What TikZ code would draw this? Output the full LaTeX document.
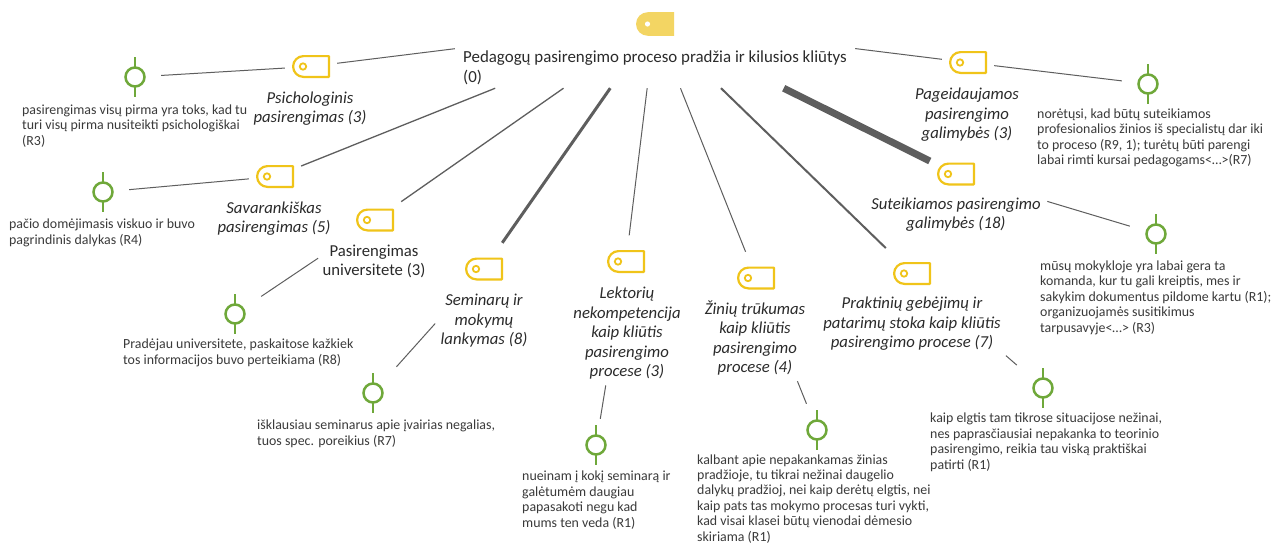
\documentclass[tikz,border=0pt]{standalone}
\usepackage{fontspec}
\setmainfont{Carlito}
\definecolor{linegray}{HTML}{5E5E5E}
\definecolor{tagyellow}{HTML}{F0C419}
\definecolor{tagfill}{HTML}{F3D563}
\definecolor{pingreen}{HTML}{6FA83A}
\definecolor{txtdark}{HTML}{2B2B2B}
\definecolor{txtgray}{HTML}{3A3A3A}
\begin{document}
% multi-line nodes are placed by the baseline of their last line
\begin{tikzpicture}[x=1pt,y=-1pt,
  hub/.style={rectangle,minimum width=52pt,minimum height=52pt,inner sep=0pt},
  roothub/.style={rectangle,minimum width=400pt,minimum height=128pt,inner sep=0pt},
  conn/.style={draw=linegray,line width=1pt},
  evtext/.style={anchor=base west,align=left,inner sep=0pt,text=txtgray,
    font=\fontsize{13.9}{15.4}\selectfont},
  cattext/.style={anchor=base,align=center,inner sep=0pt,text=txtdark,
    font=\fontsize{16.7}{19.5}\selectfont\itshape},
  tag/.pic={
    \draw[tagyellow,line width=2.2pt,line join=round]
      (17.9pt,10.4pt) -- (-7.5pt,10.4pt)
      arc[start angle=90,end angle=270,radius=10.4pt]
      -- (17.9pt,-10.4pt) -- cycle;
    \draw[tagyellow,line width=1.8pt] (-8pt,0pt) circle[radius=3.2pt];
  },
  roottag/.pic={
    \fill[tagfill]
      (19pt,11.8pt) -- (-7.2pt,11.8pt)
      arc[start angle=90,end angle=270,radius=11.8pt]
      -- (19pt,-11.8pt) -- cycle;
    \fill[white] (-7.5pt,0pt) circle[radius=2.6pt];
  },
  pin/.pic={
    \draw[pingreen,line width=2.5pt] (0pt,20pt) -- (0pt,9.5pt) (0pt,-9.5pt) -- (0pt,-20pt);
    \draw[pingreen,line width=2.5pt] (0pt,0pt) circle[radius=9.5pt];
  }
]
\fill[white] (0,0) rectangle (1272,542);
\path[use as bounding box] (0,0) rectangle (1272,542);

% central theme
\node[roothub] (root) at (655,24) {};
\pic at (root.center) {roottag};
\node[anchor=base west,align=left,inner sep=0pt,text=txtdark,
  font=\fontsize{16.9}{20}\selectfont] (roottxt) at (463,82)
  {Pedagogų pasirengimo proceso pradžia ir kilusios kliūtys\\(0)};

% sub-themes: icon hubs
\node[hub] (psi) at (311,66.5) {};
\node[hub] (pag) at (968,62.5) {};
\node[hub] (sav) at (275,176.5) {};
\node[hub] (pas) at (375,220) {};
\node[hub] (sem) at (484,269) {};
\node[hub] (lek) at (626,261.5) {};
\node[hub] (zin) at (756,278) {};
\node[hub] (pra) at (912,273.5) {};
\node[hub] (sut) at (956,174) {};
\foreach \n in {psi,pag,sav,pas,sem,lek,zin,pra,sut} {\pic at (\n.center) {tag};}

% sub-theme labels
\node[cattext] (psiL) at (310,122.5) {Psichologinis\\pasirengimas (3)};
\node[cattext] (pagL) at (967,138.5) {Pageidaujamos\\pasirengimo\\galimybės (3)};
\node[cattext] (savL) at (274,232.5) {Savarankiškas\\pasirengimas (5)};
\node[cattext,font=\fontsize{16.7}{19.5}\selectfont] (pasL) at (374,275.5) {Pasirengimas\\universitete (3)};
\node[cattext] (semL) at (484,344.5) {Seminarų ir\\mokymų\\lankymas (8)};
\node[cattext] (lekL) at (627,376.5) {Lektorių\\nekompetencija\\kaip kliūtis\\pasirengimo\\procese (3)};
\node[cattext] (zinL) at (755,372.5) {Žinių trūkumas\\kaip kliūtis\\pasirengimo\\procese (4)};
\node[cattext] (praL) at (912,347.5) {Praktinių gebėjimų ir\\patarimų stoka kaip kliūtis\\pasirengimo procese (7)};
\node[cattext] (sutL) at (956,228.5) {Suteikiamos pasirengimo\\galimybės (18)};

% quotation pins
\node[hub] (epsi) at (135,77) {};
\node[hub] (epag) at (1148,84) {};
\node[hub] (esav) at (103,192) {};
\node[hub] (epas) at (235,314) {};
\node[hub] (esem) at (373,393) {};
\node[hub] (elek) at (596,445) {};
\node[hub] (ezin) at (817,430) {};
\node[hub] (epra) at (1043,388) {};
\node[hub] (esut) at (1156,234) {};
\foreach \n in {epsi,epag,esav,epas,esem,elek,ezin,epra,esut} {\pic at (\n.center) {pin};}

% quotations
\node[evtext] (qpsi) at (22,145) {pasirengimas visų pirma yra toks, kad tu\\turi visų pirma nusiteikti psichologiškai\\(R3)};
\node[evtext] (qpag) at (1037,164.5) {norėtųsi, kad būtų suteikiamos\\profesionalios žinios iš specialistų dar iki\\to proceso (R9, 1); turėtų būti parengi\\labai rimti kursai pedagogams<…>(R7)};
\node[evtext] (qsav) at (9,244) {pačio domėjimasis viskuo ir buvo\\pagrindinis dalykas (R4)};
\node[evtext] (qpas) at (123,364) {Pradėjau universitete, paskaitose kažkiek\\tos informacijos buvo perteikiama (R8)};
\node[evtext] (qsem) at (257,445) {išklausiau seminarus apie įvairias negalias,\\tuos spec. poreikius (R7)};
\node[evtext] (qlek) at (522,527) {nueinam į kokį seminarą ir\\galėtumėm daugiau\\papasakoti negu kad\\mums ten veda (R1)};
\node[evtext] (qzin) at (697,541) {kalbant apie nepakankamas žinias\\pradžioje, tu tikrai nežinai daugelio\\dalykų pradžioj, nei kaip derėtų elgtis, nei\\kaip pats tas mokymo procesas turi vykti,\\kad visai klasei būtų vienodai dėmesio\\skiriama (R1)};
\node[evtext] (qpra) at (930,469) {kaip elgtis tam tikrose situacijose nežinai,\\nes paprasčiausiai nepakanka to teorinio\\pasirengimo, reikia tau viską praktiškai\\patirti (R1)};
\node[evtext] (qsut) at (1040,332) {mūsų mokykloje yra labai gera ta\\komanda, kur tu gali kreiptis, mes ir\\sakykim dokumentus pildome kartu (R1);\\organizuojamės susitikimus\\tarpusavyje<…> (R3)};

% theme to sub-theme connectors, width by weight
\draw[conn] (root) -- (psi);
\draw[conn] (root) -- (pag);
\draw[conn,line width=1.3pt] (root) -- (sav);
\draw[conn,line width=1.3pt] (root) -- (pas);
\draw[conn,line width=3pt] (root) -- (sem);
\draw[conn] (root) -- (lek);
\draw[conn] (root) -- (zin);
\draw[conn,line width=2pt] (root) -- (pra);
\draw[conn,line width=7pt] (root) -- (sut);

% sub-theme to quotation connectors
\draw[conn] (psi) -- (epsi);
\draw[conn] (pag) -- (epag);
\draw[conn] (sav) -- (esav);
\draw[conn,shorten <=37pt] (pas) -- (epas);
\draw[conn,shorten <=38pt] (sem) -- (esem);
\draw[conn,shorten <=99pt] (lek) -- (elek);
\draw[conn,shorten <=83pt] (zin) -- (ezin);
\draw[conn,shorten <=90pt] (pra) -- (epra);
\draw[conn,shorten <=68pt] (sut) -- (esut);
\end{tikzpicture}
\end{document}
